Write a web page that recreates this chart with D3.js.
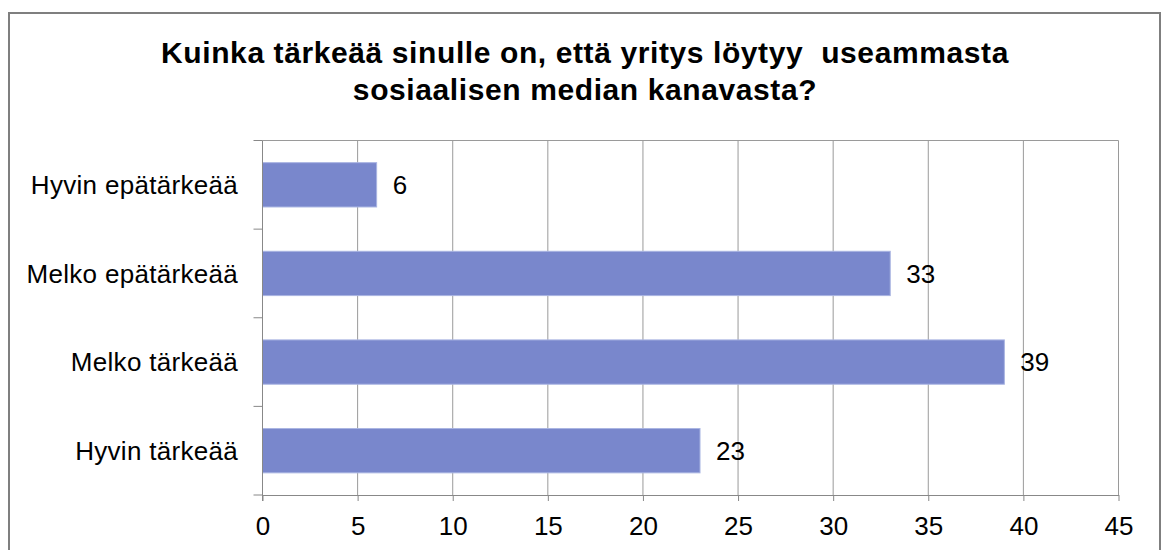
<!DOCTYPE html>
<html>
<head>
<meta charset="utf-8">
<script src="https://cdn.jsdelivr.net/npm/d3@7"></script>
<style>
  body { margin: 0; background: #fff; }
  svg { font-family: "Liberation Sans", Arial, sans-serif; }
</style>
</head>
<body>
<div id="container"></div>
<script>
// data
const categories = ["Hyvin epätärkeää", "Melko epätärkeää", "Melko tärkeää", "Hyvin tärkeää"];
const values = [6, 33, 39, 23];
const xTicks = [0, 5, 10, 15, 20, 25, 30, 35, 40, 45];
const titleLines = ["Kuinka tärkeää sinulle on, että yritys löytyy  useammasta", "sosiaalisen median kanavasta?"];

const w = 1165;
const h = 550;
const plotLeft = 262.5, plotRight = 1118.5, plotTop = 140.5, plotBottom = 495;

const svg = d3.select("#container")
              .append("svg")
              .attr("width", w)
              .attr("height", h);

// outer frame
svg.append("rect")
   .attr("x", 9)
   .attr("y", 13)
   .attr("width", 1151)
   .attr("height", 560)
   .attr("fill", "#fff")
   .attr("stroke", "#7f7f7f")
   .attr("stroke-width", 2);

// scales
const xScale = d3.scaleLinear()
                 .domain([0, 45])
                 .range([plotLeft, plotRight]);
const yScale = d3.scaleBand()
                 .domain(categories)
                 .range([plotTop, plotBottom])
                 .paddingInner(0.5)
                 .paddingOuter(0.25);

// gridlines
svg.append("g")
   .selectAll("line")
   .data(xTicks.slice(1))
   .enter()
   .append("line")
   .attr("x1", (d) => xScale(d))
   .attr("x2", (d) => xScale(d))
   .attr("y1", plotTop)
   .attr("y2", plotBottom)
   .attr("stroke", "#9a9a9a")
   .attr("stroke-width", 1);

// top border of plot
svg.append("line")
   .attr("x1", plotLeft).attr("x2", plotRight)
   .attr("y1", plotTop).attr("y2", plotTop)
   .attr("stroke", "#9a9a9a");

// bars
svg.selectAll(".bar")
   .data(values)
   .enter()
   .append("rect")
   .attr("class", "bar")
   .attr("x", xScale(0))
   .attr("y", (d, i) => yScale(categories[i]))
   .attr("width", (d) => xScale(d) - xScale(0))
   .attr("height", yScale.bandwidth())
   .attr("fill", "#7987cc")
   .attr("stroke", "#a9b4e2")
   .attr("stroke-width", 1);

// value labels
svg.selectAll(".val")
   .data(values)
   .enter()
   .append("text")
   .attr("class", "val")
   .attr("x", (d) => xScale(d) + 16)
   .attr("y", (d, i) => yScale(categories[i]) + yScale.bandwidth() / 2)
   .attr("dy", "0.36em")
   .style("font-size", "26px")
   .attr("fill", "#000")
   .text((d) => d);

// x axis
const xAxis = d3.axisBottom(xScale)
                .tickValues(xTicks)
                .tickSize(6)
                .tickSizeOuter(0);
const gx = svg.append("g")
   .attr("transform", "translate(0, " + plotBottom + ")")
   .call(xAxis);
gx.select(".domain").attr("stroke", "#888");
gx.selectAll(".tick line").attr("stroke", "#888");
gx.selectAll(".tick text")
  .style("font-size", "26px")
  .attr("fill", "#000")
  .attr("font-family", "Liberation Sans, Arial, sans-serif")
  .attr("y", 40)
  .attr("dy", 0);

// y axis: line with separators between categories
const yg = svg.append("g");
yg.append("line")
  .attr("x1", plotLeft).attr("x2", plotLeft)
  .attr("y1", plotTop).attr("y2", plotBottom + 6)
  .attr("stroke", "#888");
d3.range(categories.length + 1).forEach(function(i){
    const y = plotTop + i * (plotBottom - plotTop) / categories.length;
    yg.append("line")
      .attr("x1", plotLeft - 9).attr("x2", plotLeft)
      .attr("y1", y).attr("y2", y)
      .attr("stroke", "#888");
});
yg.selectAll("text")
  .data(categories)
  .enter()
  .append("text")
  .attr("x", 238)
  .attr("y", (d) => yScale(d) + yScale.bandwidth() / 2)
  .attr("dy", "0.36em")
  .attr("text-anchor", "end")
  .style("font-size", "26px")
  .style("letter-spacing", "0.3px")
  .text((d) => d);

// title
titleLines.forEach(function(line, i){
    svg.append("text")
       .attr("x", 585)
       .attr("y", 63 + i * 37)
       .attr("text-anchor", "middle")
       .style("font-size", "30px")
       .style("font-weight", "bold")
       .style("letter-spacing", "0.6px")
       .style("white-space", "pre")
       .text(line);
});
</script>
</body>
</html>
